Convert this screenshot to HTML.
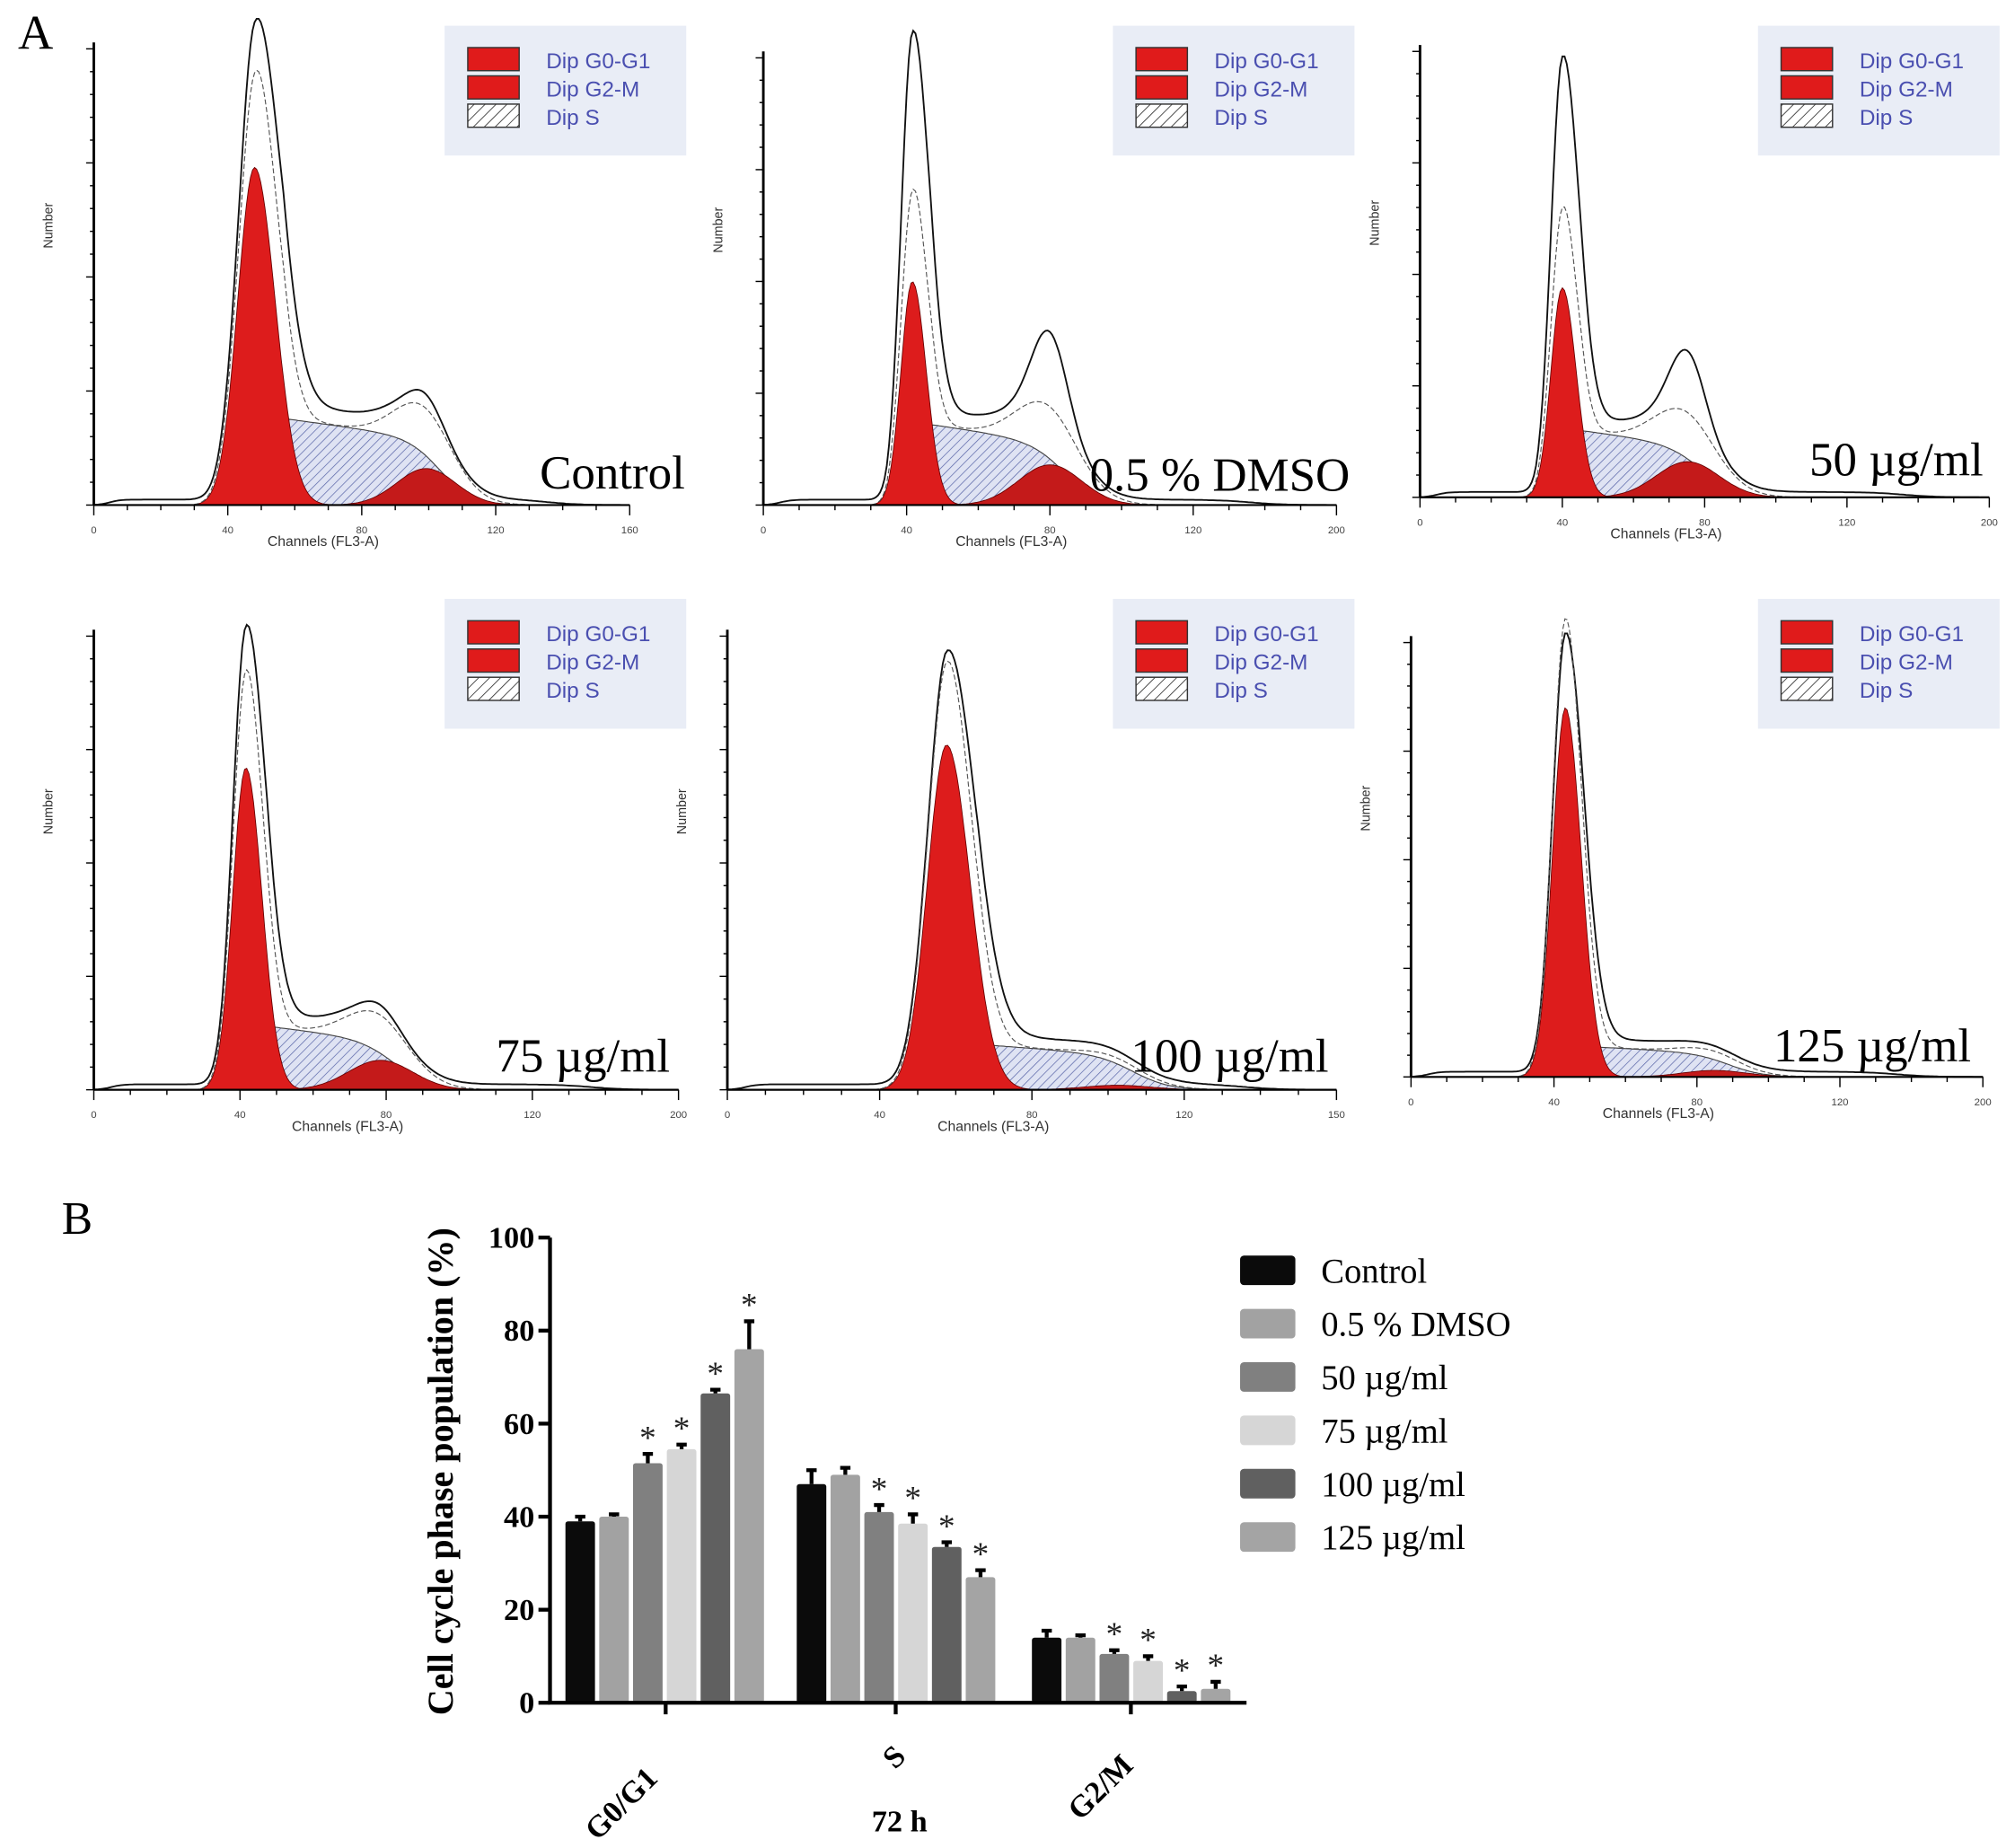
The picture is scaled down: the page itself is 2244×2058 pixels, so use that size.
<!DOCTYPE html>
<html><head><meta charset="utf-8"><style>
html,body{margin:0;padding:0;background:#fff;}
svg{display:block;}
</style></head>
<body>
<svg id="fig" xmlns="http://www.w3.org/2000/svg" width="2244" height="2058" viewBox="0 0 1568 1438">
<defs>
<pattern id="hatch" patternUnits="userSpaceOnUse" width="5" height="5" patternTransform="rotate(45)">
<rect width="5" height="5" fill="#dfe3f3"/><line x1="0" y1="0" x2="0" y2="5" stroke="#5a66a8" stroke-width="1"/>
</pattern>
<pattern id="hatchL" patternUnits="userSpaceOnUse" width="6" height="6" patternTransform="rotate(45)">
<rect width="6" height="6" fill="#fff"/><line x1="0" y1="0" x2="0" y2="6" stroke="#333" stroke-width="1.2"/>
</pattern>
</defs>
<text x="14" y="38" font-family="Liberation Serif, serif" font-size="38">A</text>
<text x="48" y="960" font-family="Liberation Serif, serif" font-size="36">B</text>
<g id="hists"></g>
<g id="bars"></g>
</svg>
<script>
// ---- Histogram panel data (fractions of axis range) ----
const panelLabels = ["Control","0.5 % DMSO","50 µg/ml","75 µg/ml","100 µg/ml","125 µg/ml"];
const g1Pos   = [0.30,0.26,0.25,0.26,0.36,0.27];
const g1Red   = [0.74,0.50,0.47,0.71,0.76,0.85];
const g1Env   = [0.98,0.93,0.88,0.93,0.92,0.97];
const g1Sd    = [0.035,0.022,0.022,0.025,0.035,0.025];
const sLevel  = [0.19,0.18,0.15,0.14,0.10,0.07];
const g2Pos   = [0.62,0.50,0.47,0.49,0.64,0.53];
const g2Red   = [0.08,0.09,0.08,0.065,0.01,0.015];
const g2Env   = [0.03,0.17,0.14,0.02,0.0,0.0];
const xMaxTick= ["160","200","200","200","150","200"];

const layout = [
 {ax:73,x2:490,top:38,base:393,lx:346,ly:20,tx:420,ty:380},
 {ax:594,x2:1040,top:45,base:393,lx:866,ly:20,tx:848,ty:382},
 {ax:1105,x2:1548,top:40,base:387,lx:1368,ly:20,tx:1408,ty:370},
 {ax:73,x2:528,top:495,base:848,lx:346,ly:466,tx:386,ty:834},
 {ax:566,x2:1040,top:495,base:848,lx:866,ly:466,tx:880,ty:834},
 {ax:1098,x2:1543,top:500,base:838,lx:1368,ly:466,tx:1380,ty:826}
];
const NS="http://www.w3.org/2000/svg";
function mk(tag,attrs,parent){const e=document.createElementNS(NS,tag);for(const k in attrs)e.setAttribute(k,attrs[k]);parent.appendChild(e);return e;}
const H=document.getElementById('hists');
function gauss(x,m,s){return Math.exp(-0.5*((x-m)/s)**2);}
function sCurve(x,a,b){const e1=1/(1+Math.exp(-(x-a)/0.012)), e2=1/(1+Math.exp((x-b)/0.03));return e1*e2;}
for(let i=0;i<6;i++){
  const L=layout[i];
  const g=mk('g',{},H);
  
  
  const W=L.x2-L.ax, Hh=L.base-L.top;
  const X=f=>L.ax+f*W, Y=f=>L.base-f*Hh;
  const N=260;
  const sA=g1Pos[i]+1.5*g1Sd[i], sB=g2Pos[i]+0.03;
  const g1=f=>g1Red[i]*gauss(f,g1Pos[i],g1Sd[i]*(f>g1Pos[i]?1.1:0.9));
  const g2=f=>g2Red[i]*gauss(f,g2Pos[i],0.055);
  const sf=f=>sLevel[i]*sCurve(f,sA-0.08,sB)*(1-0.25*Math.max(0,(f-sA)/(sB-sA+0.001)))*(f<sA?Math.max(0,1-(sA-f)/0.08):1);
  function path(fn,closed){let d='';for(let k=0;k<=N;k++){const f=k/N;d+=(k?'L':'M')+X(f).toFixed(1)+','+Y(fn(f)).toFixed(1);}return closed?d+'Z':d;}
  let p=mk('path',{d:path(sf,true),fill:'url(#hatch)',stroke:'#444','stroke-width':0.8},g);
  
  p=mk('path',{d:path(f=>f<sA?sf(f):0,true),fill:'#a81414',stroke:'none'},g);
  
  p=mk('path',{d:path(g2,true),fill:'#c41a1a',stroke:'#600','stroke-width':0.6},g);
  
  p=mk('path',{d:path(g1,true),fill:'#dd1c1c',stroke:'#600','stroke-width':0.6},g);
  
  const tail=f=>0.012/(1+Math.exp(-(f-0.03)/0.01))/(1+Math.exp((f-0.85)/0.03));
  const env=f=>g1Env[i]*gauss(f,g1Pos[i],g1Sd[i]*(f>g1Pos[i]?1.25:0.9))+sf(f)*1.12+g2Env[i]*gauss(f,g2Pos[i],0.03)+tail(f)+g2Red[i]*gauss(f,g2Pos[i],0.055);
  p=mk('path',{d:path(env,false),fill:'none',stroke:'#111','stroke-width':1.3},g);
  
  const fit=f=>g1(f)*1.2+sf(f)+g2(f)*1.3;
  p=mk('path',{d:path(fit,false),fill:'none',stroke:'#555','stroke-width':0.8,'stroke-dasharray':'4,2'},g);
  
  let a=mk('line',{x1:L.ax,y1:L.top-5,x2:L.ax,y2:L.base,stroke:'#000','stroke-width':2},g);
  
  a=mk('line',{x1:L.ax,y1:L.base,x2:L.x2,y2:L.base,stroke:'#000','stroke-width':1.5},g);
  
  for(let t=0;t<=20;t++){mk('line',{x1:L.ax-(t%5?3:6),y1:Y(t/20),x2:L.ax,y2:Y(t/20),stroke:'#000','stroke-width':1},g);}
  for(let t=0;t<=16;t++){mk('line',{x1:X(t/16),y1:L.base,x2:X(t/16),y2:L.base+(t%4?4:8),stroke:'#000','stroke-width':1},g);}
  const xl=["0","40","80","120",xMaxTick[i]];
  for(let t=0;t<5;t++){const tx=mk('text',{x:X(t/4),y:L.base+22,'font-size':8,'text-anchor':'middle','font-family':'Liberation Sans, sans-serif',fill:'#444'},g);tx.textContent=xl[t];
    }
  let t2=mk('text',{x:X(0.5)-30,y:L.base+32,'font-size':11,'text-anchor':'middle','font-family':'Liberation Sans, sans-serif',fill:'#333'},g);t2.textContent='Channels (FL3-A)';
  
  t2=mk('text',{x:0,y:0,'font-size':10,'text-anchor':'middle','font-family':'Liberation Sans, sans-serif',fill:'#333',transform:`translate(${L.ax-32},${(L.top+L.base)/2-40}) rotate(-90)`},g);t2.textContent='Number';
  
  const lg=mk('g',{},g);
  mk('rect',{x:L.lx,y:L.ly,width:188,height:101,fill:'#e9edf6'},lg);
  const ln=['Dip G0-G1','Dip G2-M','Dip S'], lf=['#e01b1b','#e01b1b','url(#hatchL)'];
  for(let k=0;k<3;k++){
    mk('rect',{x:L.lx+18,y:L.ly+17+k*22,width:40,height:18,fill:lf[k],stroke:'#333','stroke-width':1},lg);
    const t=mk('text',{x:L.lx+79,y:L.ly+33+k*22,'font-size':17,'font-family':'Liberation Sans, sans-serif',fill:'#4a4fb0'},lg);t.textContent=ln[k];
    
  }
  const lab=mk('text',{x:L.tx,y:L.ty,'font-size':37,'font-family':'Liberation Serif, serif',fill:'#000'},g);lab.textContent=panelLabels[i];
  
}

// ---- Bar chart data ----
const phases=["G0/G1","S","G2/M"];
const seriesNames=["Control","0.5 % DMSO","50 µg/ml","75 µg/ml","100 µg/ml","125 µg/ml"];
const g1Vals=[39,40,51.5,54.5,66.5,76];
const g1Errs=[1,0.5,2,1,0.8,6];
const sVals=[47,49,41,38.5,33.5,27];
const sErrs=[3,1.5,1.5,2,1,1.5];
const g2mVals=[14,14,10.5,9,2.5,3];
const g2mErrs=[1.5,0.5,0.8,1,1,1.5];
const starred=[false,false,true,true,true,true];
const yTicks=[0,20,40,60,80,100];
const colors=['#0b0b0b','#a2a2a2','#808080','#d6d6d6','#606060','#a4a4a4'];

const B=document.getElementById('bars');
const ax0=428, ybot=1325, ytop=963, xend=970;
const yS=v=>ybot-(v/100)*(ybot-ytop);
const groupStart=[440,620,803], barW=23, barStep=26.3;
const xS=(gi,si)=>groupStart[gi]+si*barStep;
const vals=[g1Vals,sVals,g2mVals], errs=[g1Errs,sErrs,g2mErrs];
for(let gi=0;gi<3;gi++)for(let si=0;si<6;si++){
  const v=vals[gi][si], e=errs[gi][si], x=xS(gi,si);
  const r=mk('rect',{x:x,y:yS(v),width:barW,height:ybot-yS(v),fill:colors[si],rx:2},B);
  
  
  const eb=mk('path',{d:`M${x+barW/2},${yS(v)}V${yS(v+e)}M${x+barW/2-4},${yS(v+e)}H${x+barW/2+4}`,stroke:'#000','stroke-width':3,fill:'none'},B);
  
  
  if(starred[si]){const s=mk('text',{x:x+barW/2,y:yS(v+e)-4,'font-size':26,'text-anchor':'middle','font-family':'Liberation Serif, serif',fill:'#222'},B);s.textContent='*';
    
    }
}
let l=mk('line',{x1:ax0,y1:ytop,x2:ax0,y2:ybot,stroke:'#000','stroke-width':3},B);

l=mk('line',{x1:ax0-1.5,y1:ybot,x2:xend,y2:ybot,stroke:'#000','stroke-width':3},B);

yTicks.forEach(t=>{mk('line',{x1:ax0-9,y1:yS(t),x2:ax0,y2:yS(t),stroke:'#000','stroke-width':3},B);
  const tx=mk('text',{x:ax0-12,y:yS(t)+8,'font-size':24,'font-weight':'bold','text-anchor':'end','font-family':'Liberation Serif, serif'},B);tx.textContent=t;
  });
const centers=[518,697,880], lp=[[513,1385],[706,1368],[883,1375]];
phases.forEach((p,gi)=>{mk('line',{x1:centers[gi],y1:ybot,x2:centers[gi],y2:ybot+9,stroke:'#000','stroke-width':3},B);
  const tx=mk('text',{x:0,y:0,'font-size':24,'font-weight':'bold','text-anchor':'end','font-family':'Liberation Serif, serif',transform:`translate(${lp[gi][0]},${lp[gi][1]}) rotate(-45)`},B);tx.textContent=p;
  });
let tt=mk('text',{x:700,y:1425,'font-size':24,'font-weight':'bold','text-anchor':'middle','font-family':'Liberation Serif, serif'},B);tt.textContent='72 h';

tt=mk('text',{x:0,y:0,'font-size':28,'font-weight':'bold','text-anchor':'middle','font-family':'Liberation Serif, serif',transform:'translate(352,1145) rotate(-90)'},B);tt.textContent='Cell cycle phase population (%)';

seriesNames.forEach((n,si)=>{const y=977+si*41.5;
  const r=mk('rect',{x:965,y:y,width:43,height:23,rx:3,fill:colors[si]},B);
  
  const t=mk('text',{x:1028,y:y+21,'font-size':27,'font-family':'Liberation Serif, serif'},B);t.textContent=n;
  });
</script>
</body></html>
